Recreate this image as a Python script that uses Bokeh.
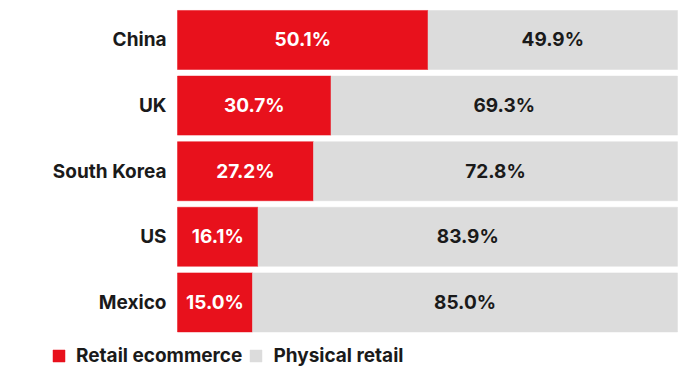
from bokeh.plotting import figure
from bokeh.models import ColumnDataSource, Range1d, Legend, LegendItem
from bokeh.core.properties import value
from bokeh.embed import file_html
from bokeh.resources import INLINE

countries = ["China", "UK", "South Korea", "US", "Mexico"]
ecommerce = [50.1, 30.7, 27.2, 16.1, 15.0]
physical = [49.9, 69.3, 72.8, 83.9, 85.0]
series_names = ["Retail ecommerce", "Physical retail"]

RED = "#E8111C"
GREY = "#DCDCDC"
INK = "#1a1a1a"
FONT = "Inter"
FS = "19px"

rows = list(range(len(countries)))  # row order, top to bottom

src = ColumnDataSource(dict(
    row=rows,
    country=countries,
    ecom=ecommerce,
    phys=physical,
    total=[a + b for a, b in zip(ecommerce, physical)],
    ecom_mid=[a / 2 for a in ecommerce],
    phys_mid=[a + b / 2 for a, b in zip(ecommerce, physical)],
    ecom_lbl=[f"{v:.1f}%" for v in ecommerce],
    phys_lbl=[f"{v:.1f}%" for v in physical],
))

p = figure(width=687, height=366, output_backend="svg", toolbar_location=None,
           x_axis_type=None, y_axis_type=None,
           x_range=Range1d(-35.4, 102), y_range=Range1d(4.977, -0.602),
           min_border=0, min_border_left=0, min_border_right=0,
           min_border_top=0, min_border_bottom=0)
p.grid.visible = False
p.outline_line_color = None

r1 = p.hbar(y="row", left=0, right="ecom", height=0.9, source=src,
            fill_color=RED, line_color=RED, line_width=0.5)
r2 = p.hbar(y="row", left="ecom", right="total", height=0.9, source=src,
            fill_color=GREY, line_color=GREY, line_width=0.5)

# category labels (left of the bars)
p.text(x=0, y="row", text="country", source=src, x_offset=-11,
       text_color=INK, text_font=value(FONT), text_font_style="bold",
       text_font_size=FS, text_align="right", text_baseline="middle")

p.text(x="ecom_mid", y="row", text="ecom_lbl", source=src,
       text_color="white", text_font=value(FONT), text_font_style="bold",
       text_font_size=FS, text_align="center", text_baseline="middle")
p.text(x="phys_mid", y="row", text="phys_lbl", source=src,
       text_color=INK, text_font=value(FONT), text_font_style="bold",
       text_font_size=FS, text_align="center", text_baseline="middle")

legend = Legend(items=[LegendItem(label=series_names[0], renderers=[r1]),
                       LegendItem(label=series_names[1], renderers=[r2])],
                orientation="horizontal", location=(51, -1),
                glyph_width=15, glyph_height=15, label_standoff=10, spacing=6,
                padding=0, margin=0, border_line_color=None, background_fill_alpha=0,
                label_text_font=FONT, label_text_font_style="bold",
                label_text_font_size=FS, label_text_color=INK,
                label_height=15)
p.add_layout(legend, "center")

open("out.html", "w").write(file_html(p, INLINE))
